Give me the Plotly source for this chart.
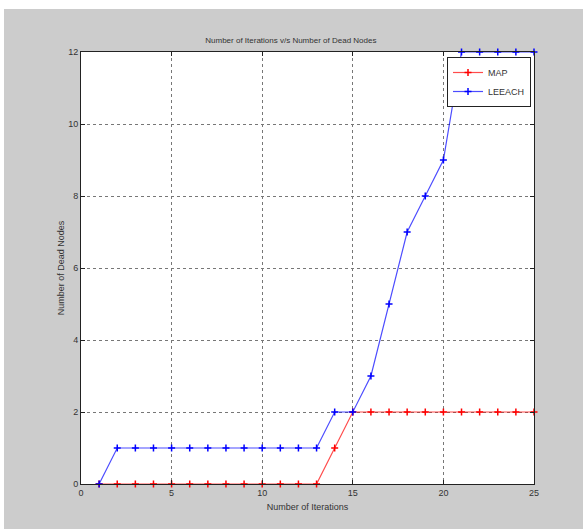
import plotly.graph_objects as go

iterations = list(range(1, 26))
map_dead = [0, 0, 0, 0, 0, 0, 0, 0, 0, 0, 0, 0, 0, 1, 2, 2, 2, 2, 2, 2, 2, 2, 2, 2, 2]
leeach_dead = [0, 1, 1, 1, 1, 1, 1, 1, 1, 1, 1, 1, 1, 2, 2, 3, 5, 7, 8, 9, 12, 12, 12, 12, 12]
x_ticks = [0, 5, 10, 15, 20, 25]
y_ticks = [0, 2, 4, 6, 8, 10, 12]

W, H = 583, 529
L, R, T, B = 81, 49, 52, 45

fig = go.Figure()
fig.add_trace(go.Scatter(
    x=iterations, y=map_dead, name="MAP", mode="lines+markers",
    line=dict(color="rgba(255,0,0,0.7)", width=1.2),
    marker=dict(symbol="cross-thin", size=5, line=dict(color="red", width=1.5)),
    cliponaxis=False))
fig.add_trace(go.Scatter(
    x=iterations, y=leeach_dead, name="LEEACH", mode="lines+markers",
    line=dict(color="rgba(0,0,255,0.7)", width=1.2),
    marker=dict(symbol="cross-thin", size=5, line=dict(color="blue", width=1.5)),
    cliponaxis=False))

axis_common = dict(
    showline=True, linecolor="#222", linewidth=1, mirror="ticks",
    ticks="inside", ticklen=4, tickcolor="#222",
    showgrid=True, gridcolor="#777", gridwidth=1, griddash="dot",
    zeroline=False, tickfont=dict(family="Liberation Sans, Arial", size=9, color="#333"),
)

fig.update_xaxes(range=[0, 25], tickvals=x_ticks, **axis_common,
                 title=dict(text="Number of Iterations", font=dict(family="Liberation Sans, Arial", size=9, color="#333"), standoff=6))
fig.update_yaxes(range=[0, 12], tickvals=y_ticks, **axis_common,
                 title=dict(text="Number of Dead Nodes", font=dict(family="Liberation Sans, Arial", size=9, color="#333"), standoff=2))

pw = W - L - R
ph = H - T - B
def px_x(p):
    return (p - L) / pw
def px_y(p):
    return (H - B - p) / ph

fig.update_layout(
    width=W, height=H,
    margin=dict(l=L, r=R, t=T, b=B),
    paper_bgcolor="#cccccc", plot_bgcolor="white",
    title=dict(text="Number of Iterations v/s Number of Dead Nodes",
               x=px_x(307), xanchor="center", y=1 - 40 / H, yanchor="middle",
               font=dict(family="Liberation Sans, Arial", size=8, color="#333")),
    legend=dict(x=px_x(531), xanchor="right", y=px_y(57), yanchor="top",
                bgcolor="white", bordercolor="#222", borderwidth=1,
                font=dict(family="Liberation Sans, Arial", size=9, color="#333"),
                itemwidth=30, tracegroupgap=0),
    showlegend=True,
    shapes=[
        dict(type="rect", xref="paper", yref="paper",
             x0=px_x(0), x1=px_x(W), y0=px_y(0), y1=px_y(9),
             fillcolor="white", line=dict(width=0), layer="below"),
        dict(type="rect", xref="paper", yref="paper",
             x0=px_x(0), x1=px_x(4), y0=px_y(0), y1=px_y(H),
             fillcolor="white", line=dict(width=0), layer="below"),
    ],
)

fig.write_html("out.html")
